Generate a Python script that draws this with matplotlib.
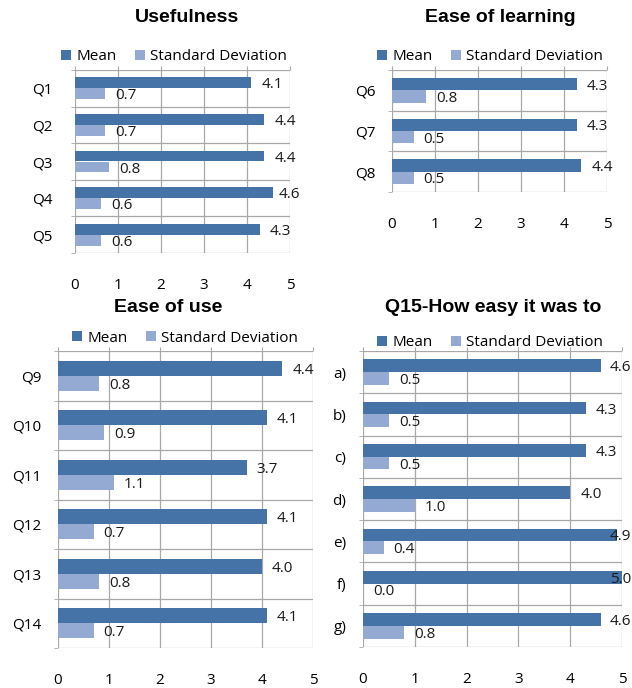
"""
Hasil kuesioner: mean dan standar deviasi per pertanyaan
"""

import numpy as np
import matplotlib.pyplot as plt

plt.rcParams['font.family'] = ['Open Sans', 'DejaVu Sans']

cat_useful = ["Q1", "Q2", "Q3", "Q4", "Q5"]
mean_useful = [4.1, 4.4, 4.4, 4.6, 4.3]
sd_useful = [0.7, 0.7, 0.8, 0.6, 0.6]

cat_learn = ["Q6", "Q7", "Q8"]
mean_learn = [4.3, 4.3, 4.4]
sd_learn = [0.8, 0.5, 0.5]

cat_use = ["Q9", "Q10", "Q11", "Q12", "Q13", "Q14"]
mean_use = [4.4, 4.1, 3.7, 4.1, 4.0, 4.1]
sd_use = [0.8, 0.9, 1.1, 0.7, 0.8, 0.7]

cat_q15 = ["a)", "b)", "c)", "d)", "e)", "f)", "g)"]
mean_q15 = [4.6, 4.3, 4.3, 4.0, 4.9, 5.0, 4.6]
sd_q15 = [0.5, 0.5, 0.5, 1.0, 0.4, 0.0, 0.8]

C_MEAN = "#4572a7"
C_SD = "#94aad3"
C_GRID = "#a8a8a8"
FS = 11

W, H = 632, 688
fig = plt.figure(figsize=(W/100, H/100), dpi=100)


def panel(box, title, cats, mean, sd, title_xy, leg_xy, ypad, chart_right):
    l, r, t, b = box
    ax = fig.add_axes([l/W, (H-b)/H, (r-l)/W, (b-t)/H])
    ppu = (r - l) / 5.0   # pixel per satuan nilai
    n = len(cats)
    y = np.arange(n)
    bh = 0.3
    ax.barh(y - bh/2, mean, height=bh, color=C_MEAN, label="Mean", zorder=3)
    ax.barh(y + bh/2, sd, height=bh, color=C_SD, label="Standard Deviation", zorder=3)
    # label nilai di kanan batang, digeser ke kiri kalau keluar area chart
    lim = (chart_right - l - 22) / ppu
    for yi, m, s in zip(y, mean, sd):
        for v, yy in ((m, yi - bh/2), (s, yi + bh/2)):
            xl = min(v + 10/ppu, lim)
            ax.annotate(f"{v:.1f}", (xl, yy), xytext=(0, -4), textcoords="offset points",
                        va="baseline", ha="left", fontsize=FS, color="#1a1a1a",
                        zorder=4, annotation_clip=False)
    ax.set_xlim(0, 5)
    ax.set_ylim(n - 0.5, -0.5)
    ax.set_yticks(y)
    ax.set_yticklabels(cats, fontsize=FS)
    ax.set_yticks(np.arange(n + 1) - 0.5, minor=True)
    ax.set_xticks(range(6))
    ax.tick_params(axis="x", bottom=False, top=True, labelbottom=True, labeltop=False,
                   length=3, color=C_GRID, pad=15, labelsize=FS)
    ax.tick_params(axis="y", which="major", length=0, pad=ypad)
    ax.tick_params(axis="y", which="minor", length=3, color=C_GRID)
    for v in range(6):
        ax.axvline(v, color=C_GRID, lw=0.9, zorder=1)
    for k in range(n + 1):
        ax.axhline(k - 0.5, color=C_GRID, lw=0.9, zorder=1)
    for sp in ax.spines.values():
        sp.set_visible(False)
    fig.text(title_xy[0]/W, 1 - title_xy[1]/H, title, ha="center", va="center",
             fontsize=14, fontweight="bold", family="Liberation Sans")
    fig.legend(handles=ax.get_legend_handles_labels()[0], loc="center",
               bbox_to_anchor=(leg_xy[0]/W, 1 - leg_xy[1]/H), ncol=2, frameon=False,
               fontsize=FS, handlelength=0.65, handleheight=0.65, handletextpad=0.33,
               columnspacing=1.2, borderaxespad=0, borderpad=0)
    return ax


panel((75, 290, 70, 253), "Usefulness", cat_useful, mean_useful, sd_useful,
      (187, 18), (174, 57), 16, 301)
panel((392, 607, 70, 192), "Ease of learning", cat_learn, mean_learn, sd_learn,
      (500, 18), (490, 57), 12, 625)
panel((58, 313, 351, 648), "Ease of use", cat_use, mean_use, sd_use,
      (168, 308), (185, 338), 12, 320)
panel((363, 622, 351, 647), "Q15-How easy it was to", cat_q15, mean_q15, sd_q15,
      (493, 308), (490, 343), 12, 632)

plt.savefig("out.png", dpi=100)
